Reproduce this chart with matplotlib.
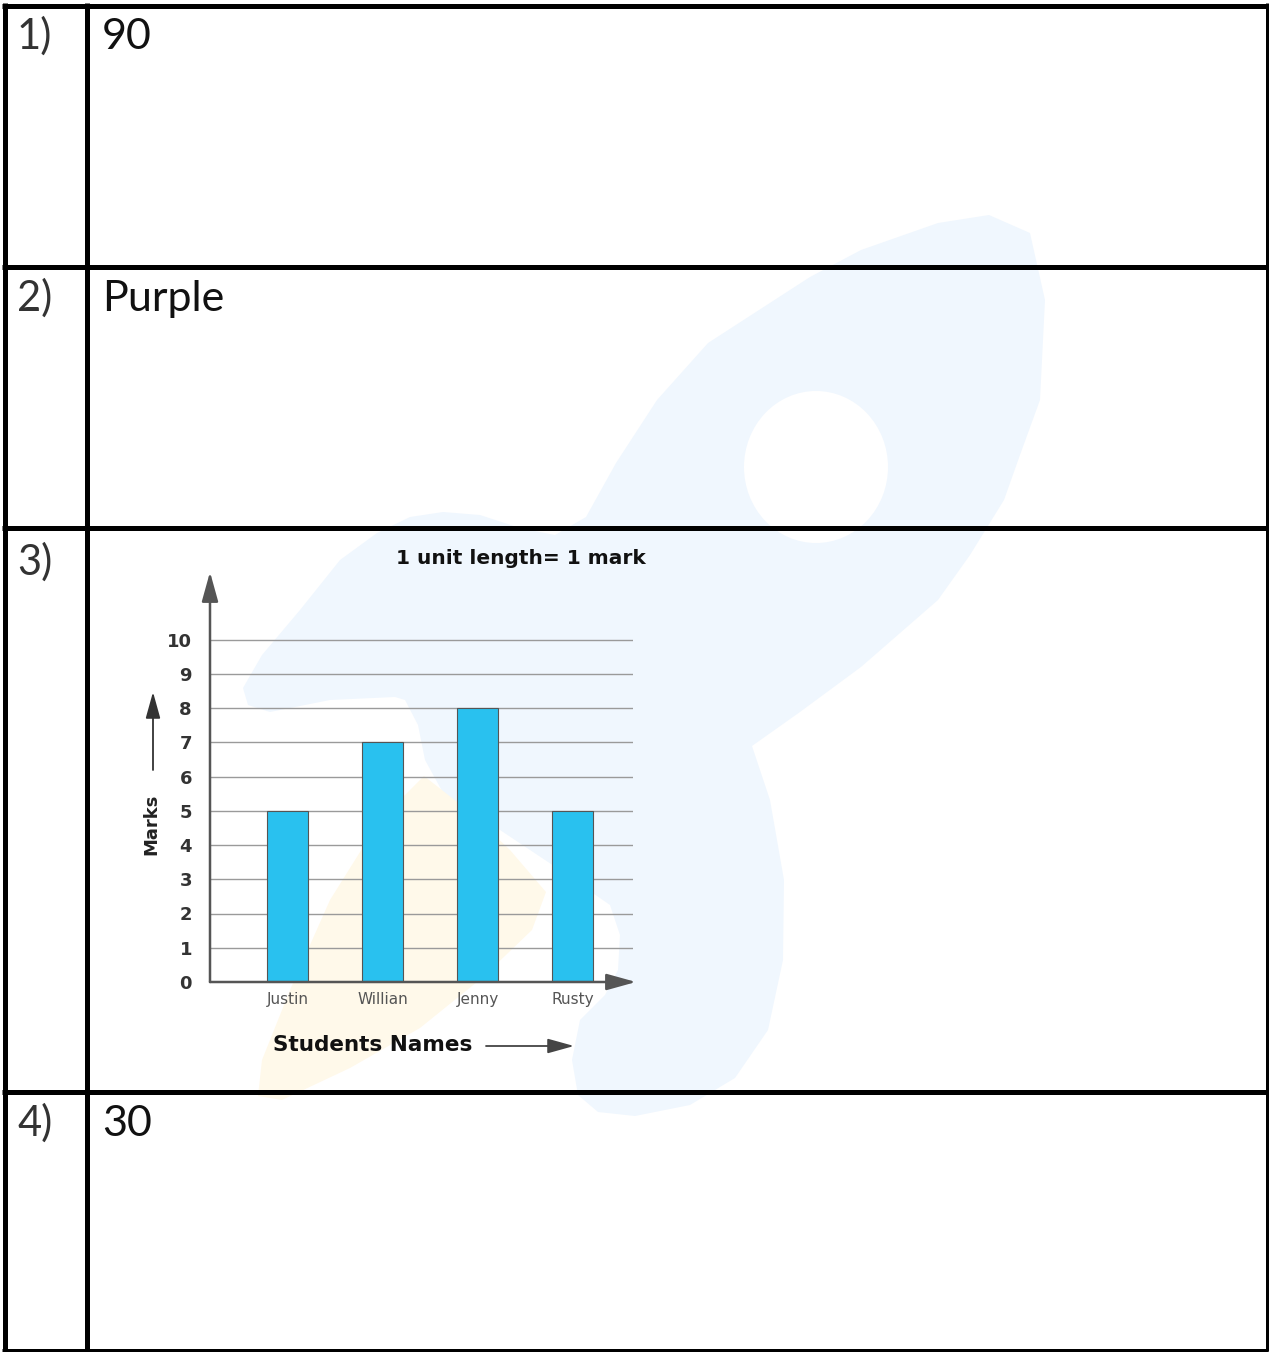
import numpy as np
import matplotlib
matplotlib.use("Agg")
import matplotlib.pyplot as plt
from matplotlib.patches import Polygon, Ellipse

plt.rcParams['font.family'] = ['Lato', 'DejaVu Sans']

# answers in the table
row_labels = ["1)", "2)", "3)", "4)"]
answers = ["90", "Purple", "", "30"]

# bar chart in row 3
students = ["Justin", "Willian", "Jenny", "Rusty"]
marks = [5, 7, 8, 5]
mark_ticks = [0, 1, 2, 3, 4, 5, 6, 7, 8, 9, 10]

W, H = 1269, 1352
fig = plt.figure(figsize=(W / 100, H / 100), dpi=100)
fig.patch.set_facecolor("white")

# background axes in pixel units (y down)
bg = fig.add_axes([0, 0, 1, 1])
bg.set_xlim(0, W)
bg.set_ylim(H, 0)
bg.axis("off")

# faint rocket watermark
rocket = [(989, 215), (1030, 233), (1045, 300), (1040, 400), (1020, 455), (1004, 500),
          (970, 555), (938, 600), (861, 667), (800, 712), (752, 746), (770, 800),
          (784, 880), (783, 960), (768, 1030), (735, 1078), (690, 1105), (635, 1116),
          (598, 1112), (578, 1095), (572, 1060), (580, 1020), (605, 995), (618, 970),
          (620, 935), (610, 905), (597, 896), (560, 870), (500, 830), (447, 800),
          (425, 760), (418, 725), (405, 700), (395, 697), (330, 700), (270, 712),
          (248, 705), (243, 688), (262, 655), (300, 610), (340, 560), (377, 533),
          (410, 517), (443, 512), (480, 515), (520, 528), (555, 535), (586, 517),
          (616, 463), (657, 400), (708, 343), (759, 310), (810, 277), (861, 250),
          (938, 223)]
bg.add_patch(Polygon(rocket, closed=True, facecolor="#F0F7FE", edgecolor="none", zorder=0))
bg.add_patch(Ellipse((816, 467), 144, 152, facecolor="white", edgecolor="none", zorder=0.1))
flame = [(424, 776), (470, 812), (510, 850), (546, 892), (532, 930), (482, 978),
         (420, 1028), (350, 1068), (282, 1100), (258, 1096), (262, 1060), (290, 990),
         (330, 900), (380, 820)]
bg.add_patch(Polygon(flame, closed=True, facecolor="#FFF9EA", edgecolor="none", zorder=0.2))

# table grid
lw_thick = 5 * 72 / 100
lw_thin = 3 * 72 / 100
for y in [5.5, 266.5, 527.5, 1091.5]:
    bg.plot([2, 1268], [y, y], color="black", lw=lw_thick, solid_capstyle="butt", zorder=3)
bg.plot([2, 1268], [1350, 1350], color="black", lw=lw_thin, solid_capstyle="butt", zorder=3)
bg.plot([4.5, 4.5], [3, 1351], color="black", lw=lw_thick, solid_capstyle="butt", zorder=3)
bg.plot([86.5, 86.5], [3, 1351], color="black", lw=lw_thick, solid_capstyle="butt", zorder=3)
bg.plot([1266.5, 1266.5], [3, 1351], color="black", lw=lw_thin, solid_capstyle="butt", zorder=3)

# row texts
baselines = [49, 311, 575, 1136]
for lab, ans, yb in zip(row_labels, answers, baselines):
    bg.text(17, yb, lab, fontsize=30, fontweight="normal", color="#333333",
            ha="left", va="baseline", zorder=4)
    if ans:
        bg.text(102, yb, ans, fontsize=31, fontweight="normal", color="#111111",
                ha="left", va="baseline", zorder=4)

# chart axes
x0, x1, y0, y1 = 210, 633, 982, 572
ax = fig.add_axes([x0 / W, (H - y0) / H, (x1 - x0) / W, (y0 - y1) / H])
ax.patch.set_alpha(0)
unit_px = 34.25
pos = np.arange(len(students))
ax.set_xlim(-(287.5 - x0) / 95, (x1 - 287.5) / 95)
ax.set_ylim(0, (y0 - y1) / unit_px)

ax.bar(pos, marks, width=0.43, color="#29C1EF", edgecolor="#555555", linewidth=0.8, zorder=2)

chart_font = ["DejaVu Sans"]
ax.set_yticks(mark_ticks)
ax.set_yticklabels([str(t) for t in mark_ticks], fontsize=13, fontweight="bold",
                   color="#333333", family=chart_font)
ax.set_xticks(pos)
ax.set_xticklabels(students, fontsize=11, color="#555555", family=chart_font)
ax.tick_params(axis="y", length=0, pad=13)
ax.tick_params(axis="x", length=0, pad=7)
ax.grid(axis="y", color="#9A9A9A", lw=1.0, zorder=1)
ax.grid(axis="x", visible=False)
for s in ax.spines.values():
    s.set_visible(False)

arrow_kw = dict(arrowstyle="-|>,head_length=0.9,head_width=0.25", color="#555555",
                lw=1.8, mutation_scale=20, shrinkA=0, shrinkB=0)
ax.annotate("", xy=(0, 1), xytext=(0, 0), xycoords="axes fraction",
            arrowprops=arrow_kw, annotation_clip=False, zorder=3)
ax.annotate("", xy=((636 - x0) / (x1 - x0), 0), xytext=(0, 0), xycoords="axes fraction",
            arrowprops=arrow_kw, annotation_clip=False, zorder=3)

# chart labels
bg.text(396, 559, "1 unit length= 1 mark", fontsize=14.5, fontweight="bold", color="#111111",
        ha="left", va="center", family=chart_font, zorder=4)
bg.text(151, 824, "Marks", fontsize=13, fontweight="bold", color="#222222",
        rotation=90, ha="center", va="center", family=chart_font, zorder=4)
bg.annotate("", xy=(153, 692), xytext=(153, 770),
            arrowprops=dict(arrowstyle="-|>,head_length=0.9,head_width=0.25", color="#333333",
                            lw=1.3, mutation_scale=18, shrinkA=0, shrinkB=0), zorder=4)
bg.text(273, 1045, "Students Names", fontsize=15.5, fontweight="bold", color="#111111",
        ha="left", va="center", family=chart_font, zorder=4)
bg.annotate("", xy=(574, 1046), xytext=(486, 1046),
            arrowprops=dict(arrowstyle="-|>,head_length=0.9,head_width=0.25", color="#444444",
                            lw=1.3, mutation_scale=18, shrinkA=0, shrinkB=0), zorder=4)

fig.savefig("out.png", dpi=100)
